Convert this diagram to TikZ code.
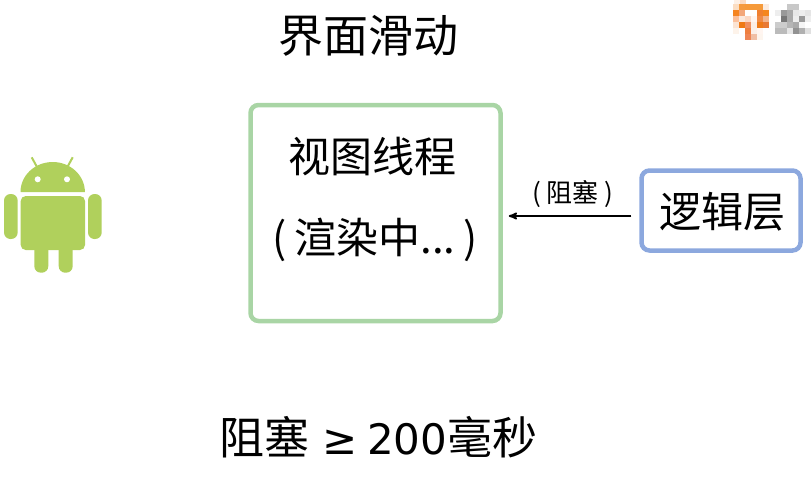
\documentclass[tikz,border=0pt]{standalone}
\usepackage{fontspec}
\setmainfont{Noto Sans CJK SC}
\newfontfamily\latinfont{DejaVu Sans}
\usetikzlibrary{arrows,positioning}
\definecolor{viewgreen}{HTML}{A9D5A5}
\definecolor{logicblue}{HTML}{8CA8DE}
\definecolor{droidgreen}{HTML}{B0D05C}
\begin{document}
\begin{tikzpicture}[x=1pt, y=-1pt, >=stealth',
 bigtext/.style = {inner sep=0pt, font=\fontsize{45}{50}\selectfont},
 boxtext/.style = {inner sep=0pt, font=\fontsize{42}{48}\selectfont},
 smalltext/.style = {inner sep=0pt, font=\fontsize{26}{30}\selectfont},
 block/.style = {draw, rectangle, line width=4.5pt, rounded corners=.8em, fill=white},
 droid/.style = {fill=droidgreen, draw=none},
 droidline/.style = {draw=droidgreen, line width=2pt},
 droideye/.style = {fill=white, draw=none},
]
    \useasboundingbox (0,0) rectangle (811,498);
    \node [bigtext]                                     (title)   at (368,36)  {界面滑动};
    \node [block, draw=viewgreen, minimum width=250pt, minimum height=216pt] (view) at (375.5,213) {};
    \node [boxtext]                                     (viewname) at (372,157) {视图线程};
    \node [boxtext]                                     (render)  at (375,240) {(\kern8pt 渲染中...\kern8pt)};
    \node [block, draw=logicblue, minimum width=159pt, minimum height=80pt]  (logic) at (721,210.5) {};
    \node [boxtext]                                     (logicname) at (722,212) {逻辑层};
    \node [smalltext]                                   (block_lab) at (573,194) {(\kern6pt 阻塞\kern6pt)};
    \node [bigtext]                                     (bottom)  at (378.5,437) {阻塞\kern13pt{\latinfont\fontsize{42}{50}\selectfont ≥\kern9pt 200}毫秒};

%% paths
    \coordinate (arrow_from) at ([xshift=-8pt,yshift=-5.5pt]logic.west);
    \coordinate (arrow_to)   at ([xshift=6pt]view.east |- arrow_from);
    \path[draw,->, line width=1.8pt] (arrow_from) -- (arrow_to);

%% android
    \fill[droid] (20.5,192) arc[start angle=180, end angle=360, x radius=32.2, y radius=30] -- cycle;
    \fill[droid, rounded corners=5pt] (20.7,196) -- (85,196) -- (85,250) -- (20.7,250) -- cycle;
    \fill[droid, rounded corners=6.5pt] (4,194) rectangle (17.7,239);
    \fill[droid, rounded corners=6.5pt] (88,194) rectangle (101.7,239);
    \fill[droid, rounded corners=6.5pt] (34.3,240) rectangle (48.3,272.7);
    \fill[droid, rounded corners=6.5pt] (58.7,240) rectangle (72.7,272.7);
    \draw[droidline] (31.7,157.3) -- (37.7,168.3);
    \draw[droidline] (72.7,157.3) -- (66.7,168.3);
    \fill[droideye] (37.7,179.3) circle (3pt);
    \fill[droideye] (67,179.3) circle (3pt);

%% mosaic
    \foreach \i/\j/\c in {734/0/FDF0E6,740/0/FBDCC4,
      733/4/FBDDC2,739/4/F59B40,745/4/F69A3A,751/4/F69A3A,757/4/F59A3A,763/4/FBEBE0,
      733/10/F5841F,739/10/F3A77A,757/10/F08030,763/10/F5861E,
      733/16/FBBF9A,739/16/FBE8DC,745/16/FBD8C4,751/16/FFF5F0,757/16/F08A45,763/16/F3B48C,
      733/22/FBE3D2,739/22/EF7A15,745/22/F09060,751/22/FBEDE5,757/22/EE7A18,763/22/E87A35,
      733/28/FDF3EA,745/28/EE7F40,751/28/FBEFE8,757/28/FFF5F0,
      745/34/EE8555,751/34/F0BFA5,757/34/FDF5EE,
      787/4/C8C8C8,793/4/C8C8C8,
      775/10/EEEEEE,781/10/999999,787/10/AAAAAA,793/10/E8E8E8,799/10/EEEEEE,805/10/E5E5E5,
      781/16/777777,787/16/AAAAAA,793/16/EEEEEE,799/16/999999,805/16/EEEEEE,
      775/22/CCCCCC,781/22/CCCCCC,787/22/B5B5B5,793/22/AAAAAA,799/22/F5F5F5,
      775/28/BBBBBB,781/28/BBBBBB,787/28/E5E5E5,793/28/929292,799/28/B0B0B0,805/28/E0E0E0}
      {\definecolor{tile}{HTML}{\c}\fill[tile] (\i,\j) rectangle ++(6,6);}
\end{tikzpicture}
\end{document}
